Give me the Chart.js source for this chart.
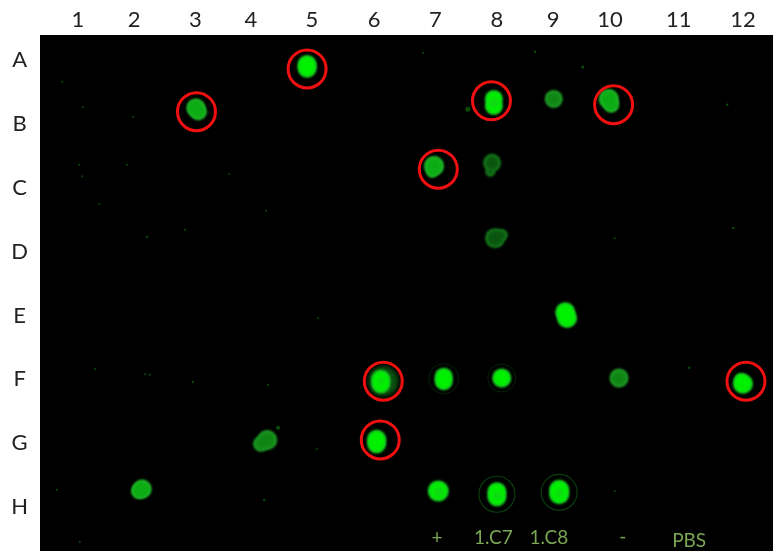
<!DOCTYPE html>
<html>
<head>
<meta charset="utf-8">
<style>
  body { margin: 0; background: #fff; }
  canvas { display: block; }
</style>
<script src="https://cdn.jsdelivr.net/npm/chart.js@4"></script>
</head>
<body>
<canvas id="blot" width="773" height="551"></canvas>
<script>
// columns and rows of the blot, columns are not evenly spaced in the picture
const columnLabels = ['1','2','3','4','5','6','7','8','9','10','11','12'];
const columnTicks = [1,1.93,2.94,3.86,4.87,5.90,6.91,7.93,8.86,9.80,10.94,12];
const rowLabels = ['A','B','C','D','E','F','G','H'];
const rowTicks = [1,2,3,4,5,6,7,8];

// spots as [column, row, radius], some have two lobes
const brightSpots = [
  [4.79,1.07,9.5],[4.79,1.13,9.5],
  [7.88,1.61,9],[7.88,1.72,9],
  [9.06,4.95,10],[9.09,5.04,10],
  [6.01,6.00,9.5],[6.01,6.07,9.5],
  [7.05,5.96,9],[7.05,6.03,9],
  [8.01,5.98,9.5],
  [5.94,6.94,9.5],[5.94,7.01,9.5],
  [6.96,7.75,10.5],
  [7.93,7.76,9.5],[7.93,7.84,9.5],
  [8.96,7.73,10],[8.96,7.80,10],
  [12.0,6.07,10],[11.97,6.01,7]
];
const strongSpots = [
  [2.95,1.75,9.5],[2.99,1.81,8.5],
  [2.06,7.72,9.5],[2.01,7.75,8],
  [6.89,2.66,10],[6.86,2.75,6],
  [9.78,1.61,10],[9.82,1.70,8]
];
const mediumSpots = [
  [9.95,5.98,9.5],
  [8.87,1.61,9],
  [4.13,6.95,10],[4.03,7.01,8]
];
const dimSpots = [
  [7.90,3.79,10],[8.01,3.74,6],
  [7.85,2.61,9],[7.82,2.75,5]
];
// slightly darker middles seen in the strongest spots
const centreShades = [
  [6.97,7.76,5],[7.94,7.82,4],[8.97,7.78,4],[7.88,1.67,5],[6.01,6.03,3]
];
const glowAreas = [
  [6.05,6.03,15]
];
const haloRings = [
  [7.93,7.80,18],[8.96,7.77,18]
];
const faintRings = [
  [7.05,5.99,15],[8.01,5.98,14]
];
const specks = [
  [2.11,5.92,1],[2.19,5.93,1],[2.90,6.04,1.2],[2.14,3.77,1.2],[1.07,2.82,1],
  [1.02,2.64,1],[1.81,2.64,1],[3.50,2.79,1],[4.11,3.36,1],[2.77,3.66,1],
  [1.35,3.25,1],[4.97,5.04,1],[11.84,3.63,1.2],[11.74,1.70,1.2],[11.11,5.82,1.2],
  [9.88,7.75,1],[4.08,7.89,1.2],[4.95,7.09,1],[1.03,8.55,1],[0.65,7.73,1],
  [8.56,0.87,1.2],[9.35,1.11,1.5],[6.71,0.89,1],[4.14,6.09,1],[1.28,5.84,1],
  [0.74,1.34,1],[1.08,1.74,1],[1.91,1.89,1],[9.88,3.79,1],
  [7.45,1.77,2.5],[4.31,6.76,2]
];
const circledWells = [
  [4.79,1.14,19],[2.96,1.81,19],[7.84,1.64,19],[9.86,1.70,19],
  [6.96,2.71,19],[6.05,6.03,19],[6.00,6.95,19],[12.05,6.03,19]
];

// sample names under the last row
const sampleLabels = ['+','1.C7','1.C8','-','PBS'];
const sampleColumns = [6.94,7.87,8.79,10.01,11.11];
const sampleRows = [8.49,8.49,8.49,8.47,8.53];

function bubbles(list, inset) {
  return list.map(s => ({ x: s[0], y: s[1], r: Math.max(s[2] - inset, 0.5) }));
}

function layer(list, inset, color, order, blur) {
  return { data: bubbles(list, inset), backgroundColor: color, borderWidth: 0, order: order, blur: blur };
}

function rings(list, color, width, order) {
  return { data: bubbles(list, 0), backgroundColor: 'rgba(0,0,0,0)', borderColor: color, borderWidth: width, order: order, blur: 0.5 };
}

const blackPlate = {
  id: 'blackPlate',
  beforeDatasetsDraw(chart) {
    const a = chart.chartArea;
    chart.ctx.fillStyle = '#000';
    chart.ctx.fillRect(a.left, a.top, a.right - a.left, a.bottom - a.top);
  }
};

// soft edges on the spots
const softEdges = {
  id: 'softEdges',
  beforeDatasetDraw(chart, args) {
    const blur = chart.data.datasets[args.index].blur;
    if (blur) {
      chart.ctx.save();
      chart.ctx.filter = 'blur(' + blur + 'px)';
    }
  },
  afterDatasetDraw(chart, args) {
    if (chart.data.datasets[args.index].blur) chart.ctx.restore();
  }
};

const sampleNames = {
  id: 'sampleNames',
  afterDatasetsDraw(chart) {
    const ctx = chart.ctx;
    ctx.save();
    ctx.font = '19px Lato';
    ctx.fillStyle = '#7ba653';
    ctx.textAlign = 'center';
    ctx.textBaseline = 'middle';
    sampleLabels.forEach((t, i) => {
      ctx.fillText(t, chart.scales.x.getPixelForValue(sampleColumns[i]), chart.scales.y.getPixelForValue(sampleRows[i]));
    });
    ctx.restore();
  }
};

function noMargins(scale) {
  scale.paddingLeft = scale.paddingRight = scale.paddingTop = scale.paddingBottom = 0;
}

new Chart(document.getElementById('blot'), {
  type: 'bubble',
  data: {
    datasets: [
      layer(specks, 0, '#0c4a0c', 14, 0.4),
      layer(glowAreas, 0, '#0a5010', 13, 2),
      rings(haloRings, '#0b3d0f', 1.2, 12),
      rings(faintRings, '#06240a', 1, 11),
      layer(dimSpots, 0, '#157a1a', 10, 0.8),
      layer(dimSpots, 2.5, '#0a5510', 9, 1.4),
      layer(mediumSpots, 0, '#1f9a26', 8, 0.8),
      layer(mediumSpots, 2.5, '#0e8614', 7, 1.4),
      layer(strongSpots, 0, '#24b82c', 6, 0.8),
      layer(strongSpots, 2, '#0cac14', 5, 1.4),
      layer(brightSpots, 0, '#18cc22', 4, 0.9),
      layer(brightSpots, 2, '#00f000', 3, 1.2),
      layer(centreShades, 0, 'rgba(30,190,40,0.45)', 2, 1.5),
      { data: bubbles(circledWells, 0), backgroundColor: 'rgba(0,0,0,0)', borderColor: '#f01010', borderWidth: 3, order: 1 }
    ]
  },
  options: {
    responsive: false,
    animation: false,
    events: [],
    layout: { padding: 0, autoPadding: false },
    plugins: { legend: { display: false }, tooltip: { enabled: false } },
    scales: {
      x: {
        type: 'linear',
        position: 'top',
        min: 0.3714,
        max: 12.4971,
        grid: { display: false },
        border: { display: false },
        afterBuildTicks(scale) { scale.ticks = columnTicks.map(v => ({ value: v })); },
        afterFit(scale) { scale.height = 35; noMargins(scale); },
        ticks: {
          autoSkip: false,
          maxRotation: 0,
          padding: 7,
          crossAlign: 'center',
          color: '#222',
          font: { family: 'Lato', size: 22 },
          callback: (v, i) => columnLabels[i]
        }
      },
      y: {
        type: 'linear',
        reverse: true,
        min: 0.6085,
        max: 8.689,
        grid: { display: false },
        border: { display: false },
        afterBuildTicks(scale) { scale.ticks = rowTicks.map(v => ({ value: v })); },
        afterFit(scale) { scale.width = 40; noMargins(scale); },
        ticks: {
          autoSkip: false,
          padding: 4,
          crossAlign: 'center',
          color: '#222',
          font: { family: 'Lato', size: 22 },
          callback: (v, i) => rowLabels[i]
        }
      }
    }
  },
  plugins: [blackPlate, softEdges, sampleNames]
});
</script>
</body>
</html>
